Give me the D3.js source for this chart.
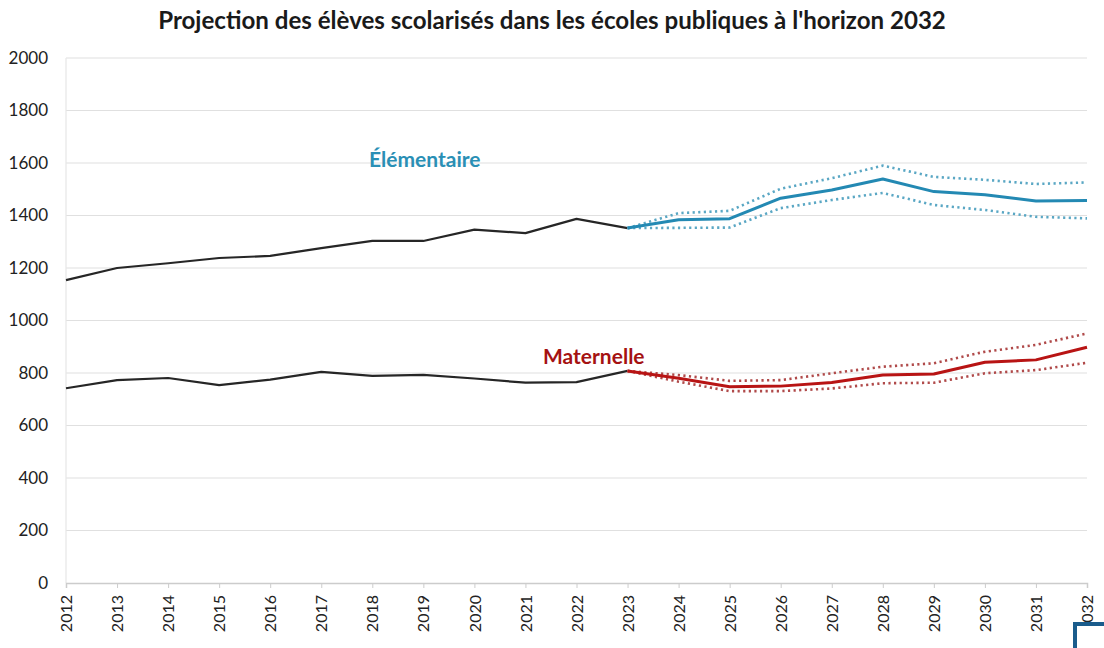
<!DOCTYPE html>
<html><head><meta charset="utf-8">
<script src="https://cdn.jsdelivr.net/npm/d3@7"></script>
<style>
html,body{margin:0;padding:0;background:#fff;}
svg{display:block;}
</style></head>
<body>
<svg id="chart" width="1104" height="648"></svg>
<script>
const titleText = "Projection des élèves scolarisés dans les écoles publiques à l'horizon 2032";
const tickYears = [2012,2013,2014,2015,2016,2017,2018,2019,2020,2021,2022,2023,2024,2025,2026,2027,2028,2029,2030,2031,2032];
const yTicks = [0,200,400,600,800,1000,1200,1400,1600,1800,2000];
const histYears = [2012,2013,2014,2015,2016,2017,2018,2019,2020,2021,2022,2023];
const elemHist = [1154,1200,1218,1238,1246,1276,1303,1303,1346,1333,1387,1352];
const matHist  = [742,773,781,754,775,804,789,793,779,763,765,808];
const projYears = [2023,2024,2025,2026,2027,2028,2029,2030,2031,2032];
const elemProj = [1352,1384,1388,1466,1497,1539,1491,1479,1455,1457];
const elemHigh = [1352,1409,1418,1502,1542,1590,1547,1536,1520,1526];
const elemLow  = [1352,1353,1354,1428,1459,1486,1440,1421,1395,1389];
const matProj  = [808,780,748,750,764,792,796,841,850,898];
const matHigh  = [808,792,770,773,799,824,837,881,907,951];
const matLow   = [808,767,731,731,741,761,763,799,811,839];

const svg = d3.select("#chart");
const x = d3.scaleLinear().domain([2012,2032]).range([66,1087]);
const y = d3.scaleLinear().domain([0,2000]).range([583,58]);
const FONT = "Lato, 'Open Sans', sans-serif";

// gridlines
svg.append("g").selectAll("line").data(yTicks.filter(d=>d>0)).join("line")
  .attr("x1",x(2012)).attr("x2",x(2032))
  .attr("y1",d=>y(d)).attr("y2",d=>y(d))
  .attr("stroke","#e0e0e0").attr("stroke-width",1.2);
// y axis line
svg.append("line").attr("x1",x(2012)).attr("x2",x(2012)).attr("y1",y(0)).attr("y2",y(2000))
  .attr("stroke","#e6e6e6").attr("stroke-width",1.2);

// y axis labels
const yAxis = d3.axisLeft(y).tickValues(yTicks).tickSize(0).tickPadding(18).tickFormat(d3.format("d"));
const gy = svg.append("g").attr("transform",`translate(${x(2012)},0)`).call(yAxis);
gy.select(".domain").remove();
gy.selectAll("text").attr("font-family",FONT).attr("font-size",17).attr("fill","#222");

// x axis
const xAxis = d3.axisBottom(x).tickValues(tickYears).tickSize(5).tickFormat(d3.format("d"));
const gx = svg.append("g").attr("transform",`translate(0,${y(0)})`).call(xAxis);
gx.select(".domain").attr("stroke","#cccccc").attr("stroke-width",1.5);
gx.selectAll(".tick line").attr("stroke","#cccccc");
gx.selectAll("text").attr("font-family",FONT).attr("font-size",16).attr("fill","#222")
  .attr("transform","rotate(-90)").attr("text-anchor","end")
  .attr("x",-12).attr("y",0).attr("dy","0.35em");

const line = d3.line().x(d=>x(d[0])).y(d=>y(d[1]));
const zip = (a,b)=>a.map((v,i)=>[v,b[i]]);

// historical lines
svg.append("path").datum(zip(histYears,elemHist)).attr("d",line)
  .attr("fill","none").attr("stroke","#262626").attr("stroke-width",2.2).attr("stroke-linejoin","round");
svg.append("path").datum(zip(histYears,matHist)).attr("d",line)
  .attr("fill","none").attr("stroke","#262626").attr("stroke-width",2.2).attr("stroke-linejoin","round");

// projections
function dotted(ys,color){
  svg.append("path").datum(zip(projYears,ys)).attr("d",line)
    .attr("fill","none").attr("stroke",color).attr("stroke-width",2.6)
    .attr("stroke-dasharray","2.2,3.4");
}
dotted(elemHigh,"#5aa7c4");
dotted(elemLow,"#5aa7c4");
svg.append("path").datum(zip(projYears,elemProj)).attr("d",line)
  .attr("fill","none").attr("stroke","#2389b3").attr("stroke-width",3).attr("stroke-linejoin","round");

dotted(matHigh,"#b04a4a");
dotted(matLow,"#b04a4a");
svg.append("path").datum(zip(projYears,matProj)).attr("d",line)
  .attr("fill","none").attr("stroke","#b81414").attr("stroke-width",3).attr("stroke-linejoin","round");

// series labels
svg.append("text").attr("x",369).attr("y",167).text("Élémentaire")
  .attr("font-family",FONT).attr("font-weight","bold").attr("font-size",21).attr("fill","#2a8fb5");
svg.append("text").attr("x",543).attr("y",364).text("Maternelle")
  .attr("font-family",FONT).attr("font-weight","bold").attr("font-size",21).attr("fill","#a51212");

// title
const t = svg.append("text").attr("x",552).attr("y",29).attr("text-anchor","middle").text(titleText)
  .attr("font-family",FONT).attr("font-weight","bold").attr("font-size",19).attr("fill","#1a1a1a");
const w = t.node().getComputedTextLength();
t.attr("font-size", 19*788/w);

// scan artifact box at bottom right
svg.append("rect").attr("x",1075).attr("y",624).attr("width",60).attr("height",40)
  .attr("fill","#fff").attr("stroke","#1a5c8c").attr("stroke-width",4);
</script>
</body></html>
